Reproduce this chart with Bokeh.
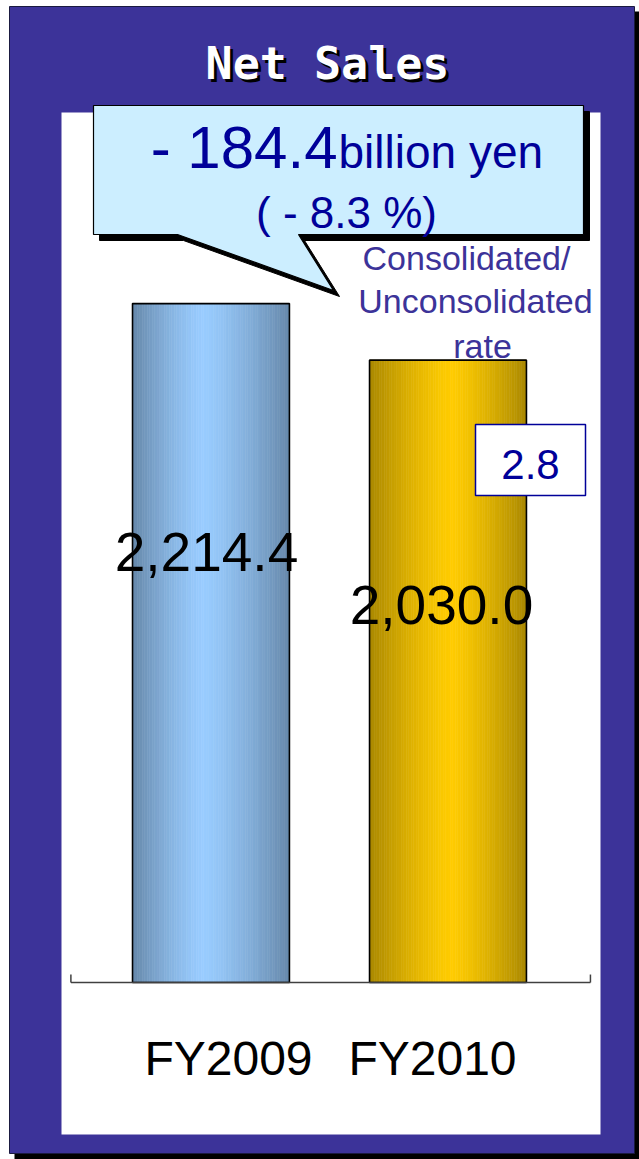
import numpy as np
from bokeh.plotting import figure
from bokeh.models import Range1d
from bokeh.core.properties import value
from bokeh.embed import file_html
from bokeh.resources import INLINE

# ---------------- data ----------------
categories = ["FY2009", "FY2010"]
net_sales = [2214.4, 2030.0]          # billion yen
cons_ratio = 2.8                       # consolidated / unconsolidated rate
title_text = "Net Sales"
unit_text = "billion yen"
ratio_lines = ["Consolidated/", "Unconsolidated", "rate"]

# ---------------- styles ----------------
W, H = 639, 1159
PURPLE = "#3c3399"
NAVY = "#000099"
FONT = "Liberation Sans"
BL = 0.37   # baseline correction factor (fraction of font size)
bar_edge = [(0x66, 0x88, 0xaa), (0xaa, 0x88, 0x00)]
bar_mid = [(0x99, 0xcc, 0xff), (0xff, 0xcc, 0x00)]
bar_peak = [0.45, 0.52]
bar_w = 0.662


def by(y, size):
    return y - BL * size


p = figure(width=W, height=H, x_range=Range1d(0, W), y_range=Range1d(H, 0),
           output_backend="svg", toolbar_location=None, min_border=0)
p.axis.visible = False
p.grid.visible = False
p.outline_line_color = None
p.background_fill_color = "white"
p.border_fill_color = "white"
# data ranges for the bars (value 0 sits on the category axis line)
p.extra_x_ranges = {"cat": Range1d(-0.888, 1.808)}
p.extra_y_ranges = {"val": Range1d(-577.3, 3203)}
PX_PER_VAL = 1159 / (3203 + 577.3)

# ---------------- background frame ----------------
p.quad(left=[14], right=[639], top=[11], bottom=[1159], fill_color="black", line_color=None)
p.quad(left=[9], right=[634], top=[6], bottom=[1153], fill_color=PURPLE,
       line_color="#1a1a40", line_width=1)
p.quad(left=[61], right=[600], top=[112], bottom=[1134], fill_color="white", line_color=None)

# title with shadow
ts = 45
p.text(x=[330], y=[by(83, ts)], text=[title_text], text_color="black", text_align="center",
       text_baseline="alphabetic", text_font=value("DejaVu Sans Mono"),
       text_font_size=f"{ts}px", text_font_style="bold")
p.text(x=[327], y=[by(80, ts)], text=[title_text], text_color="white", text_align="center",
       text_baseline="alphabetic", text_font=value("DejaVu Sans Mono"),
       text_font_size=f"{ts}px", text_font_style="bold")

# ---------------- bars with horizontal gradient ----------------
N = 64
L, R, T, C = [], [], [], []
for i, v in enumerate(net_sales):
    e, m, c = bar_edge[i], bar_mid[i], bar_peak[i]
    for k in range(N):
        t = (k + 0.5) / N
        s = abs(t - c) / (c if t < c else 1 - c)
        s = min(1.0, s) ** 1.3
        col = tuple(int(round(m[j] * (1 - s) + e[j] * s)) for j in range(3))
        left = i - bar_w / 2 + k * bar_w / N
        L.append(left)
        R.append(left + bar_w / N)
        T.append(v)
        C.append("#%02x%02x%02x" % col)
p.quad(left=L, right=R, bottom=0, top=T, fill_color=C, line_color=C, line_width=0.6,
       x_range_name="cat", y_range_name="val")
p.vbar(x=list(range(len(net_sales))), width=bar_w, top=net_sales, bottom=0,
       fill_color=None, line_color="black", line_width=1.6,
       x_range_name="cat", y_range_name="val")

# category axis line with end ticks
ax_l, ax_r, tick_h = -0.591, 1.601, 26
p.line(x=[ax_l, ax_r], y=[0, 0], line_color="#404040", line_width=1.5,
       x_range_name="cat", y_range_name="val")
p.segment(x0=[ax_l, ax_r], y0=[0, 0], x1=[ax_l, ax_r], y1=[tick_h, tick_h],
          line_color="#404040", line_width=1.5, x_range_name="cat", y_range_name="val")

# category labels (baseline 94 px below the axis)
cs = 48
cat_y = -(94 - BL * cs) / PX_PER_VAL
p.text(x=list(range(len(categories))), y=[cat_y] * len(categories), text=categories,
       x_offset=[17.5, -15.5], text_align="center", text_baseline="alphabetic",
       text_color="black", text_font=value(FONT), text_font_size=f"{cs}px",
       x_range_name="cat", y_range_name="val")

# value labels
vs = 55
label_frac = [0.604, 0.574]
p.text(x=list(range(len(net_sales))),
       y=[v * f + BL * vs / PX_PER_VAL for v, f in zip(net_sales, label_frac)],
       text=[f"{v:,.1f}" for v in net_sales], x_offset=[-4.5, -6.5],
       text_align="center", text_baseline="alphabetic", text_color="black",
       text_font=value(FONT), text_font_size=f"{vs}px",
       x_range_name="cat", y_range_name="val")

# ---------------- callout ----------------
cx = [93, 583, 583, 298, 333, 177, 93]
cy = [105, 105, 234, 234, 290, 234, 234]
p.patch(x=[v + 6 for v in cx], y=[v + 6 for v in cy], fill_color="black", line_color="black")
p.patch(x=cx, y=cy, fill_color="#cceeff", line_color="black", line_width=1.2)

diff = net_sales[1] - net_sales[0]
pct = diff / net_sales[0] * 100
sign = "-" if diff < 0 else "+"
p.text(x=[337], y=[by(169, 60)], text=[f"{sign} {abs(diff):.1f}"], text_align="right",
       text_baseline="alphabetic", text_color=NAVY, text_font=value(FONT),
       text_font_size="60px")
p.text(x=[338], y=[by(169, 46)], text=[unit_text], text_align="left",
       text_baseline="alphabetic", text_color=NAVY, text_font=value(FONT),
       text_font_size="46px")
p.text(x=[346], y=[by(228, 44)], text=[f"( {sign} {abs(pct):.1f} %)"], text_align="center",
       text_baseline="alphabetic", text_color=NAVY, text_font=value(FONT),
       text_font_size="44px")

# consolidated/unconsolidated rate
p.text(x=[466, 475, 482], y=[by(y, 34) for y in (270, 313, 358)], text=ratio_lines,
       text_align="center", text_baseline="alphabetic", text_color=PURPLE,
       text_font=value(FONT), text_font_size="34px")
p.quad(left=[475], right=[585], top=[424], bottom=[495], fill_color="white",
       line_color=NAVY, line_width=1.5)
p.text(x=[530], y=[by(480, 42)], text=[f"{cons_ratio:.1f}"], text_align="center",
       text_baseline="alphabetic", text_color=NAVY, text_font=value(FONT),
       text_font_size="42px")

open("out.html", "w").write(file_html(p, INLINE))
